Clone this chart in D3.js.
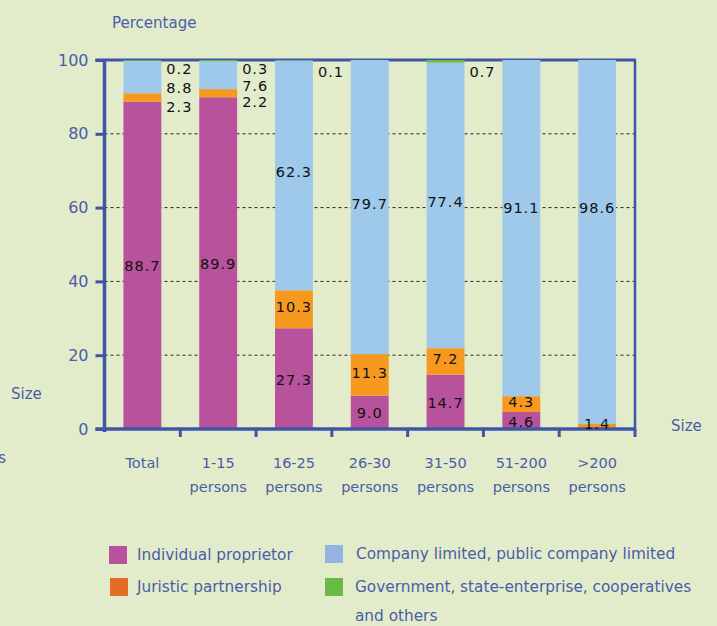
<!DOCTYPE html>
<html>
<head>
<meta charset="utf-8">
<script src="https://cdn.jsdelivr.net/npm/d3@7"></script>
<style>
  html, body { margin: 0; padding: 0; background: #e2ecca; }
  svg { display: block; }
</style>
</head>
<body>
<svg id="chart" width="717" height="626"></svg>
<script>
// Share of establishments by legal form, per size class (percent)
const categories = [
  ["Total"],
  ["1-15", "persons"],
  ["16-25", "persons"],
  ["26-30", "persons"],
  ["31-50", "persons"],
  ["51-200", "persons"],
  [">200", "persons"]
];
const individual = [88.7, 89.9, 27.3, 9.0, 14.7, 4.6, 0];
const juristic   = [2.3, 2.2, 10.3, 11.3, 7.2, 4.3, 1.4];
const company    = [8.8, 7.6, 62.3, 79.7, 77.4, 91.1, 98.6];
const government = [0.2, 0.3, 0.1, 0, 0.7, 0, 0];

const yTicks = [0, 20, 40, 60, 80, 100];

const seriesNames = [
  "Individual proprietor",
  "Juristic partnership",
  "Company limited, public company limited",
  "Government, state-enterprise, cooperatives"
];
const barColors    = ["#b8529c", "#f7991f", "#9fc9ea", "#69bb45"];
const legendColors = ["#b8529c", "#e46c28", "#94b4e0", "#69bb45"];

const axisBlue = "#3f55a6";
const textBlue = "#4a5ca8";
const uiFont = "'DejaVu Sans', Verdana, sans-serif";

const svg = d3.select("#chart");
const plotLeft = 104.5, plotRight = 635, plotTop = 60, plotBottom = 429;

const keys = ["individual", "juristic", "company", "government"];
const rows = categories.map((c, i) => ({
  idx: i,
  individual: individual[i],
  juristic: juristic[i],
  company: company[i],
  government: government[i]
}));
const stacked = d3.stack().keys(keys)(rows);

const x = d3.scaleBand().domain(d3.range(categories.length)).range([plotLeft, plotRight]).paddingInner(0.5).paddingOuter(0.25);
const y = d3.scaleLinear().domain([0, 100]).range([plotBottom, plotTop]);

// dotted gridlines
svg.append("g").selectAll("line")
  .data(yTicks.filter(t => t > 0 && t < 100))
  .join("line")
  .attr("x1", plotLeft).attr("x2", plotRight)
  .attr("y1", d => y(d)).attr("y2", d => y(d))
  .attr("stroke", "#222").attr("stroke-width", 1).attr("stroke-dasharray", "3,3");

// frame: top line and right border
svg.append("line").attr("x1", plotLeft - 9).attr("x2", plotRight + 1).attr("y1", y(100)).attr("y2", y(100))
  .attr("stroke", axisBlue).attr("stroke-width", 3);
svg.append("line").attr("x1", plotRight).attr("x2", plotRight).attr("y1", y(100)).attr("y2", plotBottom + 2)
  .attr("stroke", axisBlue).attr("stroke-width", 2.5);

// stacked bars
svg.append("g").selectAll("g")
  .data(stacked)
  .join("g")
  .attr("fill", (d, i) => barColors[i])
  .selectAll("rect")
  .data(d => d)
  .join("rect")
  .attr("x", d => x(d.data.idx))
  .attr("width", x.bandwidth())
  .attr("y", d => y(d[1]))
  .attr("height", d => Math.max(0, y(d[0]) - y(d[1])));

// y axis
const yAxis = d3.axisLeft(y).tickValues(yTicks).tickSize(9).tickPadding(7).tickFormat(d3.format("d"));
const gy = svg.append("g").attr("transform", `translate(${plotLeft},0)`).call(yAxis);
gy.select(".domain").attr("stroke", axisBlue).attr("stroke-width", 3.5).attr("d", `M0,${plotTop}V${plotBottom + 3}`);
gy.selectAll(".tick line").attr("stroke", axisBlue).attr("stroke-width", 3);
gy.selectAll(".tick text").attr("fill", textBlue).attr("font-family", uiFont).attr("font-size", 16);

// x axis with ticks at category boundaries
const gx = svg.append("g").attr("transform", `translate(0,${plotBottom})`);
gx.append("line").attr("x1", plotLeft - 9).attr("x2", plotRight + 1).attr("y1", 0).attr("y2", 0)
  .attr("stroke", axisBlue).attr("stroke-width", 3.5);
const step = x.step();
gx.selectAll("line.tick")
  .data(d3.range(1, categories.length + 1))
  .join("line")
  .attr("class", "tick")
  .attr("x1", i => x(i - 1) + x.bandwidth() + step * x.paddingInner() / 2)
  .attr("x2", i => x(i - 1) + x.bandwidth() + step * x.paddingInner() / 2)
  .attr("y1", 0).attr("y2", 8)
  .attr("stroke", axisBlue).attr("stroke-width", 3);
const xl = gx.selectAll("text.cat")
  .data(categories)
  .join("text")
  .attr("class", "cat")
  .attr("text-anchor", "middle")
  .attr("fill", textBlue).attr("font-family", uiFont).attr("font-size", 14.5)
  .attr("transform", (d, i) => `translate(${x(i) + x.bandwidth() / 2},${39})`);
xl.selectAll("tspan")
  .data(d => d)
  .join("tspan")
  .attr("x", 0).attr("dy", (d, j) => j === 0 ? 0 : 24)
  .text(d => d);

// value labels
const fmt = d3.format(".1f");
const labelG = svg.append("g")
  .attr("font-family", uiFont).attr("font-size", 14.5).attr("letter-spacing", 1)
  .attr("fill", "#111").attr("dominant-baseline", "central");

rows.forEach((r, i) => {
  const cx = x(i) + x.bandwidth() / 2;
  const rx = x(i) + x.bandwidth() + 5;
  const mid = (a, b) => (y(a) + y(b)) / 2;

  if (r.individual > 0) {
    labelG.append("text").attr("x", cx).attr("y", mid(0, r.individual) + 1)
      .attr("text-anchor", "middle").text(fmt(r.individual));
  }
  const outside = r.individual > 80;
  if (outside) {
    // small shares stacked beside the bar
    const gy0 = y(100) + 9;
    const jy = y(r.individual) + 2;
    labelG.append("text").attr("x", rx).attr("y", gy0).text(fmt(r.government));
    labelG.append("text").attr("x", rx).attr("y", (gy0 + jy) / 2 + 2).text(fmt(r.company));
    labelG.append("text").attr("x", rx).attr("y", jy + 3).text(fmt(r.juristic));
  } else {
    labelG.append("text").attr("x", cx)
      .attr("y", mid(r.individual, r.individual + r.juristic) - 2)
      .attr("text-anchor", "middle").text(fmt(r.juristic));
    const centre = mid(r.individual + r.juristic, r.individual + r.juristic + r.company) - 3;
    const cy = Math.min(centre, y(60));
    labelG.append("text").attr("x", cx).attr("y", cy)
      .attr("text-anchor", "middle").text(fmt(r.company));
    if (r.government > 0) {
      labelG.append("text").attr("x", rx).attr("y", y(100) + 12).text(fmt(r.government));
    }
  }
});

// axis titles
const titles = svg.append("g").attr("fill", textBlue).attr("font-family", uiFont).attr("font-size", 15);
titles.append("text").attr("x", 112).attr("y", 28).text("Percentage");
titles.append("text").attr("x", 11).attr("y", 399).text("Size");
titles.append("text").attr("x", 671).attr("y", 431).text("Size");
titles.append("text").attr("x", 6).attr("y", 463).attr("text-anchor", "end").text("persons");

// legend
const legendItems = [
  { i: 0, sx: 109, sy: 546, tx: 137, lines: [seriesNames[0]] },
  { i: 1, sx: 110, sy: 578, tx: 137, lines: [seriesNames[1]] },
  { i: 2, sx: 325, sy: 545, tx: 356, lines: [seriesNames[2]] },
  { i: 3, sx: 325, sy: 578, tx: 355, lines: [seriesNames[3], "and others"] }
];
const lg = svg.append("g");
legendItems.forEach(it => {
  lg.append("rect").attr("x", it.sx).attr("y", it.sy).attr("width", 18).attr("height", 18)
    .attr("fill", legendColors[it.i]);
  const t = lg.append("text").attr("fill", textBlue).attr("font-family", uiFont).attr("font-size", 15.3)
    .attr("x", it.tx).attr("y", it.sy + 14);
  it.lines.forEach((ln, j) => {
    t.append("tspan").attr("x", it.tx).attr("dy", j === 0 ? 0 : 29).text(ln);
  });
});
</script>
</body>
</html>
